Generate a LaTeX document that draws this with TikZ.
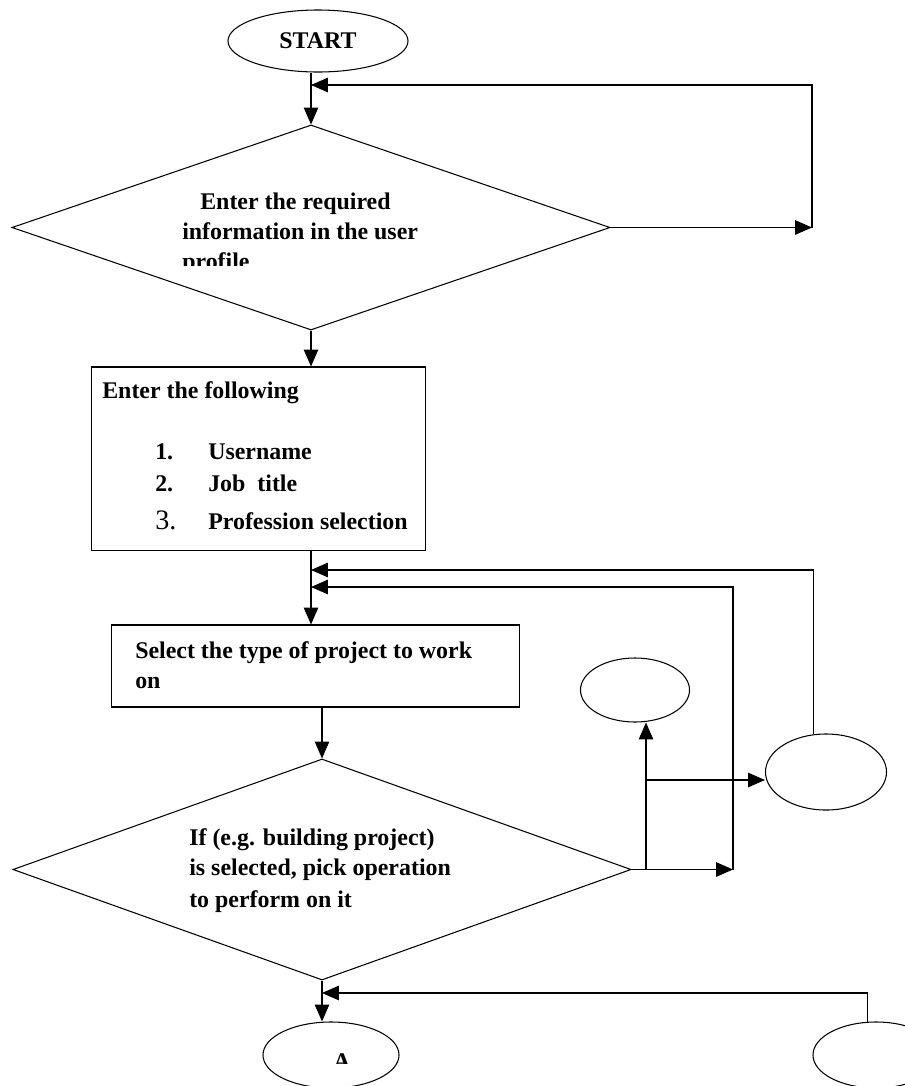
\documentclass[tikz,border=0pt]{standalone}
\usepackage{fontspec}
\setmainfont{Liberation Serif}
\usetikzlibrary{shapes.geometric}
\usetikzlibrary{arrows.meta}

\tikzset{
  flow/.style = {line width = 0.75pt},
  arr/.style = {flow, -{Triangle[length = 0.42cm, width = 0.36cm]}},
  term/.style = {draw, flow, ellipse, inner sep = 0pt},
  decision/.style = {draw, flow, diamond, inner sep = 0pt},
  proc/.style = {draw, flow, rectangle, inner sep = 0pt},
  txt/.style = {inner sep = 0pt, anchor = base west,
    font = \fontsize{17}{21}\selectfont\bfseries}
}

\begin{document}
\begin{tikzpicture}[x = 0.025cm, y = -0.025cm]
\useasboundingbox (0, 0) rectangle (904, 1086);

\node [term, minimum width = 4.5cm, minimum height = 1.55cm,
    font = \fontsize{17}{21}\selectfont\bfseries] (start) at (318, 41) {START};
\node [decision, minimum width = 14.95cm, minimum height = 5.125cm] (d1) at (311, 227.5) {};
\node [proc, minimum width = 8.325cm, minimum height = 4.575cm] (b1) at (258.5, 458.5) {};
\node [proc, minimum width = 10.175cm, minimum height = 2.05cm] (b2) at (315.5, 666) {};
\node [decision, minimum width = 15.45cm, minimum height = 5.525cm] (d2) at (322, 869.5) {};
\node [term, minimum width = 2.725cm, minimum height = 1.6cm] (op1) at (635, 690) {};
\node [term, minimum width = 3.025cm, minimum height = 1.9cm] (op2) at (826, 772) {};
\node [term, minimum width = 3.4cm, minimum height = 1.65cm] (endA) at (331, 1055) {};
\node [term, minimum width = 3.15cm, minimum height = 1.65cm] (endB) at (876, 1055) {};

\coordinate (m1) at (311, 85);
\coordinate (fb1) at (812, 227.5);
\coordinate (m2) at (311, 570);
\coordinate (m3) at (311, 587);
\coordinate (fb2) at (733, 869.5);
\coordinate (br1) at (646, 869.5);
\coordinate (br2) at (646, 780);
\coordinate (m4) at (322, 993);

% main column
\draw [arr] (start.south -| d1.north) -- (d1.north);
\draw [arr] (d1.south) -- (d1.south |- b1.north);
\draw [arr] (d1.south |- b1.south) -- (d1.south |- b2.north);
\draw [arr] (b2.south -| d2.north) -- (d2.north);
\draw [arr] (d2.south) -- (d2.south |- endA.north);

% loops back
\draw [arr] (d1.east) -- (fb1);
\draw [arr] (fb1) |- (m1);
\draw [arr] (op2.109) |- (m2);
\draw [arr] (d2.east) -- (fb2);
\draw [arr] (fb2) |- (m3);
\draw [arr] (endB.105) |- (m4);

% branches
\draw [arr] (br1) -- (br1 |- op1.south);
\draw [arr] (br2) -- (br2 -| op2.west);

\node [txt] (t1a) at (200, 209) {Enter the required};
\node [txt] (t1b) at (182, 239) {information in the user};
\begin{scope}
  \clip (0, 0) rectangle (904, 265);
  \node [txt] (t1c) at (182, 269) {profile};
\end{scope}

\node [txt] (b1h) at (102, 398) {Enter the following};
\node [txt] (n1) at (155, 459) {1.};
\node [txt] (i1) at (208, 459) {Username};
\node [txt] (n2) at (155, 491) {2.};
\node [txt] (i2) at (208, 491) {Job\ \ title};
\node [txt, font = \fontsize{20}{24}\selectfont] (n3) at (155, 529) {3.};
\node [txt] (i3) at (208, 529) {Profession selection};

\node [txt] (t2a) at (135, 658) {Select the type of project to work};
\node [txt] (t2b) at (135, 688) {on};

\node [txt] (t3a) at (189, 845) {If (e.g. building project)};
\node [txt] (t3b) at (189, 875) {is selected, pick operation};
\node [txt] (t3c) at (189, 907) {to perform on it};

\begin{scope}
  \clip (0, 0) rectangle (904, 1063);
  \node [txt, anchor = base] (tA) at (342, 1069) {A};
\end{scope}
\end{tikzpicture}
\end{document}
